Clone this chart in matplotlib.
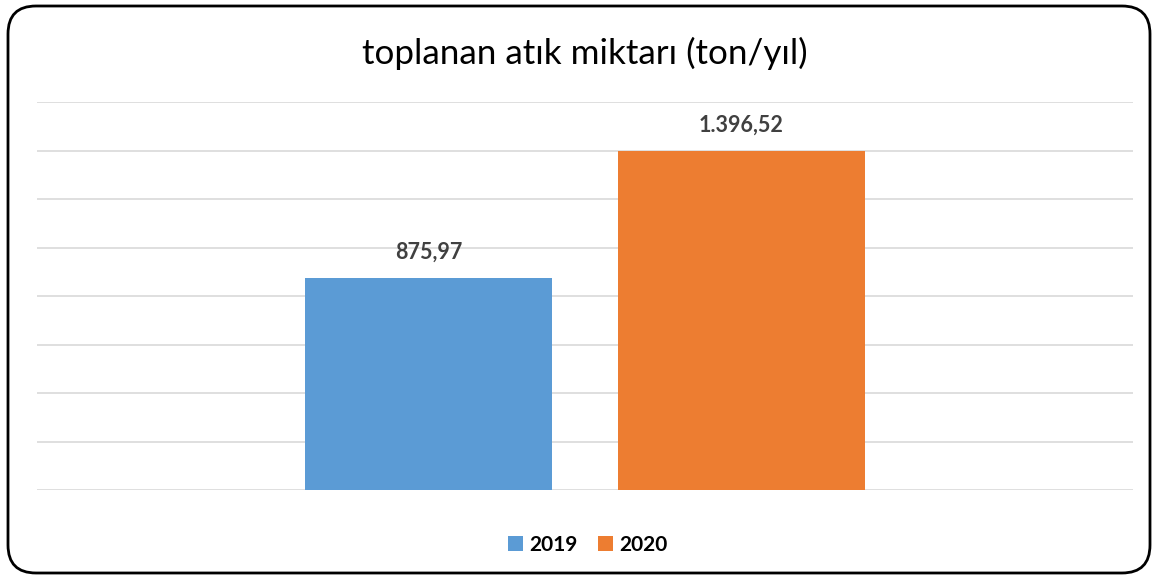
import matplotlib.pyplot as plt
from matplotlib.patches import FancyBboxPatch

# Data
years = ["2019", "2020"]
values = [875.97, 1396.52]
labels = ["875,97", "1.396,52"]
colors = ["#5b9bd5", "#ed7d31"]

plt.rcParams['font.family'] = ['Lato', 'DejaVu Sans']

W, H = 1161, 578
fig = plt.figure(figsize=(W / 100, H / 100), dpi=100)

ax = fig.add_axes([37 / W, 1 - 490 / H, (1133 - 37) / W, (490 - 102) / H])
ax.set_facecolor("none")

offsets = [-0.1428, 0.1428]
width = 0.2254
for i in range(len(years)):
    ax.bar(offsets[i], values[i], width=width, color=colors[i], label=years[i], zorder=3)
    ax.annotate(labels[i], (offsets[i], values[i]), xytext=(0, 18.5), textcoords="offset points",
                ha="center", va="center", fontsize=15.5, fontweight="bold", color="#404040")

ax.set_xlim(-0.5, 0.5)
ax.set_ylim(0, 1600)
ax.set_yticks(range(0, 1601, 200))
ax.yaxis.grid(True, color="#d9d9d9", linewidth=1.2, zorder=0)
ax.tick_params(left=False, bottom=False, labelleft=False, labelbottom=False)
for s in ax.spines.values():
    s.set_visible(False)

fig.text(585 / W, 1 - 53 / H, "toplanan atık miktarı (ton/yıl)", ha="center", va="center",
         fontsize=25.2, color="black")

fig.legend(loc="center", bbox_to_anchor=(588 / W, 1 - 545 / H), ncol=2, frameon=False,
           handlelength=0.7, handleheight=0.7, handletextpad=0.3, columnspacing=1.0,
           prop={"weight": "bold", "size": 15})

# rounded outer border
border = FancyBboxPatch((8 / W, 5 / H), (1150 - 8) / W, (572 - 5) / H,
                        boxstyle="round,pad=0,rounding_size=%f" % (28 / W),
                        transform=fig.transFigure, facecolor="none",
                        edgecolor="black", linewidth=2, mutation_aspect=W / H)
fig.patches.append(border)

fig.savefig("out.png", dpi=100)
